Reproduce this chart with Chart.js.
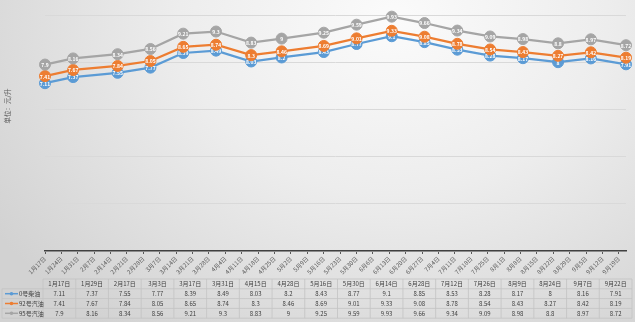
<!DOCTYPE html>
<html>
<head>
<meta charset="utf-8">
<script src="https://cdn.jsdelivr.net/npm/chart.js@4/dist/chart.umd.min.js"></script>
<style>
    html, body { margin: 0; padding: 0; }
    body {
        width: 635px; height: 322px; overflow: hidden;
        background: radial-gradient(ellipse 75% 120% at 62% 6%, #fbfbfb 0%, #ededed 45%, #d2d2d2 100%);
    }
    canvas { display: block; }
</style>
</head>
<body>
<canvas id="price" width="635" height="322"></canvas>
<script>
// dates of each price adjustment (also the data table header)
let dates = ['1月17日', '1月29日', '2月17日', '3月3日', '3月17日', '3月31日', '4月15日', '4月28日', '5月16日',
    '5月30日', '6月14日', '6月28日', '7月12日', '7月26日', '8月9日', '8月24日', '9月7日', '9月22日'];

let diesel0 = [7.11, 7.37, 7.55, 7.77, 8.39, 8.49, 8.03, 8.2, 8.43, 8.77, 9.1, 8.85, 8.53, 8.28, 8.17, 8, 8.16, 7.91];
let gas92 = [7.41, 7.67, 7.84, 8.05, 8.65, 8.74, 8.3, 8.46, 8.69, 9.01, 9.33, 9.08, 8.78, 8.54, 8.43, 8.27, 8.42, 8.19];
let gas95 = [7.9, 8.16, 8.34, 8.56, 9.21, 9.3, 8.83, 9, 9.25, 9.59, 9.93, 9.66, 9.34, 9.09, 8.98, 8.8, 8.97, 8.72];

let seriesNames = ['0号柴油', '92号汽油', '95号汽油'];

// weekly date axis labels
let axisLabels = ['1月17日', '1月24日', '1月31日', '2月7日', '2月14日', '2月21日', '2月28日', '3月7日', '3月14日',
    '3月21日', '3月28日', '4月4日', '4月11日', '4月18日', '4月25日', '5月2日', '5月9日', '5月16日', '5月23日',
    '5月30日', '6月6日', '6月13日', '6月20日', '6月27日', '7月4日', '7月11日', '7月18日', '7月25日', '8月1日',
    '8月8日', '8月15日', '8月22日', '8月29日', '9月5日', '9月12日', '9月19日'];

let yTitle = '单位：元/升';

const colors = ['#5b9bd5', '#ed7d31', '#a5a5a5'];
const font = '"Noto Sans CJK SC", "Noto Sans", sans-serif';

// days since 1月17日
function dayOffset(s){
    let m = s.match(/(\d+)月(\d+)日/);
    return Math.round((Date.UTC(2022, m[1] - 1, +m[2]) - Date.UTC(2022, 0, 17)) / 86400000);
}

function points(values){
    return values.map((v, i) => ({x: dayOffset(dates[i]), y: v}));
}

let tickDays = axisLabels.map(dayOffset);

let pointLabels = {
    id: 'pointLabels',
    afterDatasetDraw(chart, args){
        let ctx = chart.ctx;
        let ds = chart.data.datasets[args.index];
        ctx.save();
        ctx.fillStyle = '#ffffff';
        ctx.font = 'bold 5px ' + font;
        ctx.textAlign = 'center';
        ctx.textBaseline = 'middle';
        args.meta.data.forEach((pt, i) => {
            ctx.fillText(String(ds.data[i].y), pt.x, pt.y + 0.5);
        });
        ctx.restore();
    }
};

let dataTable = {
    id: 'dataTable',
    afterDraw(chart){
        let ctx = chart.ctx;
        let left = 2, keyRight = 43, right = 632, top = 279, rowH = 9.8;
        let colW = (right - keyRight) / dates.length;
        let rows = [diesel0, gas92, gas95];
        ctx.save();
        ctx.strokeStyle = '#c3c3c3';
        ctx.lineWidth = 0.8;
        // horizontal lines
        for (let r = 0; r <= 4; r++) {
            let y = top + r * rowH;
            ctx.beginPath();
            ctx.moveTo(r == 0 ? keyRight : left, y);
            ctx.lineTo(right, y);
            ctx.stroke();
        }
        // vertical lines
        ctx.beginPath();
        ctx.moveTo(left, top + rowH);
        ctx.lineTo(left, top + 4 * rowH);
        ctx.stroke();
        for (let c = 0; c <= dates.length; c++) {
            let x = keyRight + c * colW;
            ctx.beginPath();
            ctx.moveTo(x, top);
            ctx.lineTo(x, top + 4 * rowH);
            ctx.stroke();
        }
        ctx.fillStyle = '#404040';
        ctx.font = '6px ' + font;
        ctx.textAlign = 'center';
        ctx.textBaseline = 'middle';
        dates.forEach((d, c) => {
            ctx.fillText(d, keyRight + (c + 0.5) * colW, top + rowH / 2);
        });
        rows.forEach((vals, r) => {
            let y = top + (r + 1.5) * rowH;
            vals.forEach((v, c) => {
                ctx.fillText(String(v), keyRight + (c + 0.5) * colW, y);
            });
            // legend key
            ctx.strokeStyle = colors[r];
            ctx.lineWidth = 1.5;
            ctx.beginPath();
            ctx.moveTo(5, y);
            ctx.lineTo(18, y);
            ctx.stroke();
            ctx.fillStyle = colors[r];
            ctx.beginPath();
            ctx.arc(11.5, y, 1.8, 0, Math.PI * 2);
            ctx.fill();
            ctx.fillStyle = '#404040';
            ctx.textAlign = 'left';
            ctx.fillText(seriesNames[r], 19, y);
            ctx.textAlign = 'center';
        });
        // y axis title
        ctx.fillStyle = '#595959';
        ctx.font = '6.5px ' + font;
        ctx.translate(8, 106);
        ctx.rotate(-Math.PI / 2);
        ctx.fillText(yTitle, 0, 0);
        ctx.restore();
    }
};

function makeDataset(i, values){
    return {
        label: seriesNames[i],
        data: points(values),
        borderColor: colors[i],
        backgroundColor: colors[i],
        pointBackgroundColor: colors[i],
        pointBorderColor: colors[i],
        pointRadius: 5.5,
        pointBorderWidth: 1,
        borderWidth: 2.25,
        tension: 0,
        clip: false,
        order: 3 - i
    };
}

let ctx = document.getElementById('price').getContext('2d');

let chart = new Chart(ctx, {
    type: 'line',
    data: {
        datasets: [makeDataset(0, diesel0), makeDataset(1, gas92), makeDataset(2, gas95)]
    },
    options: {
        responsive: false,
        animation: false,
        layout: { padding: { left: 45, right: 9, top: 15, bottom: 44 } },
        plugins: {
            legend: { display: false },
            tooltip: { enabled: false }
        },
        scales: {
            x: {
                type: 'linear',
                min: 0,
                max: dayOffset('9月22日'),
                afterBuildTicks: (scale) => {
                    scale.ticks = tickDays.map(v => ({ value: v }));
                },
                afterFit: (scale) => { scale.height = 27; },
                ticks: {
                    autoSkip: false,
                    maxRotation: 45,
                    minRotation: 45,
                    padding: 1,
                    color: '#595959',
                    font: { size: 6, family: font },
                    callback: (v) => axisLabels[tickDays.indexOf(v)]
                },
                grid: { drawOnChartArea: false, drawTicks: true, tickLength: 3, color: '#595959' },
                border: { color: '#404040', width: 1.5 }
            },
            y: {
                min: 0,
                max: 10,
                afterFit: (scale) => { scale.width = 0; },
                ticks: { display: false, stepSize: 2 },
                grid: { color: '#d9d9d9', drawTicks: false },
                border: { display: false }
            }
        }
    },
    plugins: [pointLabels, dataTable]
});
</script>
</body>
</html>
